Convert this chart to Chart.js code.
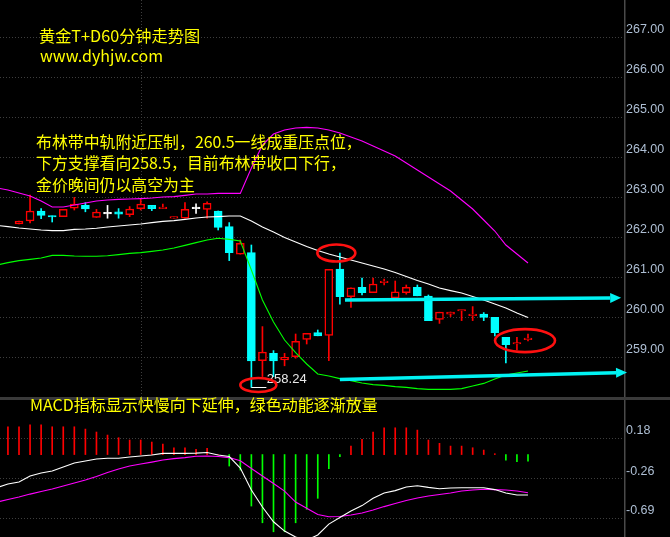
<!DOCTYPE html>
<html><head><meta charset="utf-8">
<script src="https://cdn.jsdelivr.net/npm/chart.js@4"></script>
<style>
html,body{margin:0;padding:0;background:#000;}
#wrap{position:relative;width:670px;height:537px;overflow:hidden;background:#000;}
canvas{position:absolute;left:0;}
.t{position:absolute;color:#ffff00;font-family:"Noto Sans CJK SC","Noto Sans",sans-serif;white-space:nowrap;}
</style></head><body>
<div id="wrap">
<canvas id="pc" width="670" height="397" style="top:0"></canvas>
<div style="position:absolute;left:0;top:397px;width:670px;height:3px;background:#3a3a3a"></div>
<canvas id="mc" width="670" height="137" style="top:400px"></canvas>
<div class="t" style="left:39px;top:25px;font-size:16.2px;line-height:20px">黄金T+D60分钟走势图</div>
<div class="t" style="left:40px;top:45px;font-size:16px;line-height:20px">www.dyhjw.com</div>
<div class="t" style="left:36px;top:130.5px;font-size:15.9px;line-height:21.7px">布林带中轨附近压制，260.5一线成重压点位，<br>下方支撑看向258.5，目前布林带收口下行，<br>金价晚间仍以高空为主</div>
<div class="t" style="left:30px;top:394px;font-size:16px;line-height:20px">MACD指标显示快慢向下延伸，绿色动能逐渐放量</div>
</div>
<script>
// ---------- data ----------
const OPEN  = [262.325,262.40,262.65,262.525,262.51,262.72,262.79,262.49,262.58,262.63,262.56,262.71,262.79,262.71,262.47,262.47,262.71,262.69,262.65,262.26,261.57,261.61,258.91,259.09,258.925,259.01,259.44,259.61,259.54,261.195,260.51,260.74,260.61,260.86,260.48,260.61,260.74,260.525,259.94,260.07,260.15,260.035,260.075,259.99,259.49,259.325,259.435];
const HIGH  = [262.40,263.05,262.71,262.525,262.69,262.99,262.86,262.69,262.79,262.71,262.76,262.95,262.79,262.82,262.50,262.86,262.83,262.88,262.65,262.36,261.925,261.80,259.76,259.16,259.09,259.575,259.59,259.675,261.19,261.60,260.73,260.97,260.97,260.95,260.90,260.80,260.80,260.55,260.12,260.125,260.17,260.26,260.11,259.99,259.49,259.49,259.57];
const LOW   = [262.325,262.35,262.46,262.375,262.51,262.675,262.63,262.49,262.47,262.47,262.51,262.675,262.66,262.71,262.47,262.47,262.59,262.47,262.175,261.41,261.57,258.24,258.51,258.51,258.78,258.97,259.325,259.53,258.91,260.32,260.24,260.55,260.61,260.80,260.45,260.57,260.53,259.91,259.84,260.01,259.91,259.91,259.91,259.525,258.85,259.175,259.40];
const CLOSE = [262.40,262.65,262.54,262.50,262.69,262.82,262.70,262.62,262.58,262.57,262.70,262.82,262.71,262.725,262.50,262.69,262.71,262.84,262.24,261.61,261.84,258.90,259.12,258.90,258.99,259.39,259.59,259.53,261.19,260.51,260.73,260.61,260.825,260.87,260.63,260.74,260.53,259.91,260.12,260.125,260.17,260.04,259.99,259.61,259.31,259.33,259.44];

const BAND_START = -2;
const BOLL_UP  = [263.225,263.175,263.10,263.025,262.90,262.75,262.75,262.80,262.85,262.90,262.925,262.94,262.95,262.96,262.975,263.00,263.01,263.04,263.075,263.075,263.09,263.09,263.09,263.725,264.30,264.575,264.675,264.725,264.74,264.725,264.675,264.60,264.50,264.40,264.275,264.15,264.025,263.85,263.675,263.50,263.325,263.15,262.925,262.70,262.425,262.15,261.80,261.575,261.35];
const BOLL_MID = [262.29,262.26,262.225,262.20,262.175,262.16,262.16,262.19,262.20,262.22,262.25,262.275,262.30,262.325,262.36,262.39,262.41,262.44,262.475,262.50,262.51,262.525,262.525,262.40,262.25,262.125,261.99,261.875,261.76,261.66,261.575,261.50,261.425,261.35,261.275,261.20,261.11,261.01,260.91,260.825,260.725,260.66,260.60,260.51,260.425,260.325,260.225,260.10,259.99];
const BOLL_LOW = [261.30,261.36,261.41,261.44,261.475,261.54,261.54,261.525,261.52,261.52,261.53,261.56,261.59,261.61,261.64,261.675,261.725,261.79,261.86,261.925,261.97,261.94,261.90,261.175,260.425,259.875,259.425,259.11,258.825,258.575,258.525,258.46,258.41,258.35,258.31,258.29,258.26,258.24,258.21,258.19,258.19,258.19,258.21,258.275,258.34,258.45,258.55,258.60,258.65];

const LINE_START = -2;
const DIF = [-0.359,-0.321,-0.299,-0.234,-0.201,-0.179,-0.136,-0.092,-0.071,-0.049,-0.041,-0.041,-0.027,-0.016,-0.005,0.013,0.013,0.013,0.016,0.022,-0.005,-0.022,-0.147,-0.386,-0.571,-0.731,-0.832,-0.897,-0.930,-0.875,-0.756,-0.685,-0.614,-0.555,-0.476,-0.419,-0.392,-0.353,-0.339,-0.357,-0.372,-0.364,-0.361,-0.361,-0.361,-0.381,-0.419,-0.440,-0.440];
const DEA = [-0.517,-0.489,-0.462,-0.430,-0.402,-0.375,-0.343,-0.310,-0.277,-0.239,-0.196,-0.158,-0.125,-0.103,-0.082,-0.060,-0.044,-0.033,-0.018,-0.016,-0.022,-0.033,-0.067,-0.152,-0.234,-0.315,-0.397,-0.517,-0.585,-0.653,-0.676,-0.674,-0.658,-0.636,-0.604,-0.566,-0.533,-0.500,-0.473,-0.451,-0.435,-0.419,-0.397,-0.386,-0.378,-0.381,-0.386,-0.397,-0.415];
const HIST_START = -1;
const HIST = [0.302,0.302,0.324,0.324,0.302,0.302,0.302,0.277,0.245,0.212,0.183,0.158,0.158,0.136,0.114,0.074,0.074,0.057,0.067,0,-0.125,-0.169,-0.560,-0.742,-0.840,-0.840,-0.742,-0.596,-0.476,-0.154,-0.024,0.092,0.165,0.245,0.291,0.291,0.291,0.266,0.158,0.122,0.092,0.092,0.074,0.049,0.009,-0.060,-0.078,-0.071];

const PRICE_TICKS = [267,266,265,264,263,262,261,260,259];
const MACD_TICKS = [0.18,-0.26,-0.69];
const SESSION_BREAK = 11;

// annotations (data coordinates: candle index, price)
const ARROWS = [{x1:29.46,p1:260.425,x2:54.42,p2:260.48},{x1:29.0,p1:258.44,x2:54.95,p2:258.61}];
const ELLIPSES = [{x:21.63,p:258.30,rx:18,ry:7},{x:28.68,p:261.60,rx:19,ry:8.5},{x:45.73,p:259.41,rx:30,ry:11.5}];

// ---------- styles ----------
const X_MIN = -1.7171, X_MAX = 54.676;
const RED='#ff0000', CYAN='#00ffff', WHITE='#ffffff', MAG='#ff00ff', GREEN='#00ff00';
const GRID='#3e3e3e', AXIS='#4a4a4a', LABEL='#aebfd4';
const LFONT='12.5px "Liberation Sans", Arial, sans-serif';

const dir = i => CLOSE[i]>OPEN[i]?1:(CLOSE[i]<OPEN[i]?-1:0);
const edge = i => dir(i)>0?RED:(dir(i)<0?CYAN:WHITE);
const fill = i => dir(i)>0?'#000000':(dir(i)<0?CYAN:WHITE);

function gridAndLabels(chart, ticks, decimals, vline){
  const {ctx, chartArea:a, scales:{x,y}} = chart;
  ctx.save();
  ctx.strokeStyle=GRID; ctx.lineWidth=1; ctx.setLineDash([1,2]);
  ticks.forEach(v=>{const py=Math.round(y.getPixelForValue(v))+0.5;ctx.beginPath();ctx.moveTo(a.left,py);ctx.lineTo(a.right,py);ctx.stroke();});
  if(vline!==undefined){const vx=Math.round(x.getPixelForValue(vline))+0.5;ctx.beginPath();ctx.moveTo(vx,a.top);ctx.lineTo(vx,a.bottom);ctx.stroke();}
  ctx.restore();
}
function axisLabels(chart, ticks, decimals){
  const {ctx, chartArea:a, scales:{y}} = chart;
  ctx.save();
  ctx.strokeStyle=AXIS; ctx.lineWidth=1.5; ctx.beginPath();
  ctx.moveTo(a.right+0.75,0); ctx.lineTo(a.right+0.75,chart.height); ctx.stroke();
  ctx.fillStyle=LABEL; ctx.font=LFONT; ctx.textAlign='left'; ctx.textBaseline='middle';
  ticks.forEach(v=>{const py=y.getPixelForValue(v);ctx.fillText(v.toFixed(decimals),a.right+2,py-7);});
  ctx.restore();
}

const pricePlugin = {
  id:'pp',
  beforeDatasetsDraw(chart){ gridAndLabels(chart, PRICE_TICKS, 2, SESSION_BREAK); },
  afterDraw(chart){
    axisLabels(chart, PRICE_TICKS, 2);
    const {ctx, scales:{x,y}} = chart;
    ctx.save();
    // lowest low marker
    let li=0; LOW.forEach((v,i)=>{if(v<LOW[li])li=i;});
    const lx=x.getPixelForValue(li), ly=Math.round(y.getPixelForValue(LOW[li]))+0.5;
    ctx.strokeStyle=WHITE; ctx.lineWidth=1; ctx.beginPath(); ctx.moveTo(lx,ly); ctx.lineTo(lx+15,ly); ctx.stroke();
    ctx.fillStyle='#e8e8e8'; ctx.font='13px "Liberation Sans", Arial, sans-serif'; ctx.textBaseline='middle'; ctx.textAlign='left';
    ctx.fillText(LOW[li].toFixed(2), lx+15.5, ly-8);
    // arrows
    ctx.strokeStyle='#00f2f2'; ctx.fillStyle='#00f2f2';
    ARROWS.forEach(r=>{
      const x1=x.getPixelForValue(r.x1), y1=y.getPixelForValue(r.p1), x2=x.getPixelForValue(r.x2), y2=y.getPixelForValue(r.p2);
      const ang=Math.atan2(y2-y1,x2-x1), hl=11, hw=5;
      const bx=x2-hl*Math.cos(ang), by=y2-hl*Math.sin(ang);
      ctx.lineWidth=3.5; ctx.beginPath(); ctx.moveTo(x1,y1); ctx.lineTo(bx,by); ctx.stroke();
      ctx.beginPath(); ctx.moveTo(x2,y2); ctx.lineTo(bx-hw*Math.sin(ang),by+hw*Math.cos(ang)); ctx.lineTo(bx+hw*Math.sin(ang),by-hw*Math.cos(ang)); ctx.closePath(); ctx.fill();
    });
    // ellipses
    ctx.strokeStyle='#ff1010'; ctx.lineWidth=2.6;
    ELLIPSES.forEach(e=>{ctx.beginPath();ctx.ellipse(x.getPixelForValue(e.x),y.getPixelForValue(e.p),e.rx,e.ry,0,0,Math.PI*2);ctx.stroke();});
    ctx.restore();
  }
};
const macdPlugin = {
  id:'mp',
  beforeDatasetsDraw(chart){ gridAndLabels(chart, MACD_TICKS, 2); },
  afterDraw(chart){ axisLabels(chart, MACD_TICKS, 2); }
};

const pts = (arr,start)=>arr.map((v,k)=>({x:start+k,y:v}));
const baseOpts = (ymin,ymax)=>({
  responsive:false, animation:false, devicePixelRatio:1, events:[],
  layout:{padding:{left:0,right:46,top:0,bottom:0}},
  plugins:{legend:{display:false},tooltip:{enabled:false}},
  scales:{
    x:{type:'linear',min:X_MIN,max:X_MAX,display:false,offset:false},
    y:{type:'linear',min:ymin,max:ymax,display:false}
  }
});
const lineDs = (data,color)=>({type:'line',data,borderColor:color,borderWidth:1.1,pointRadius:0,tension:0,order:0,fill:false});

new Chart(document.getElementById('pc'),{
  type:'bar',
  data:{datasets:[
    lineDs(pts(BOLL_UP,BAND_START),MAG),
    lineDs(pts(BOLL_MID,BAND_START),WHITE),
    lineDs(pts(BOLL_LOW,BAND_START),GREEN),
    {type:'bar',order:1,grouped:false,data:OPEN.map((o,i)=>({x:i,y:[o,CLOSE[i]]})),
     barThickness:8,borderWidth:1.5,borderSkipped:false,minBarLength:1.5,
     borderColor:c=>edge(c.dataIndex),backgroundColor:c=>fill(c.dataIndex)},
    {type:'bar',order:2,grouped:false,data:LOW.map((l,i)=>({x:i,y:[l,HIGH[i]]})),
     barThickness:1,borderWidth:0,minBarLength:1,backgroundColor:c=>edge(c.dataIndex)}
  ]},
  options:baseOpts(258.0,267.925),
  plugins:[pricePlugin]
});

new Chart(document.getElementById('mc'),{
  type:'bar',
  data:{datasets:[
    lineDs(pts(DIF,LINE_START),WHITE),
    lineDs(pts(DEA,LINE_START),MAG),
    {type:'bar',order:1,grouped:false,data:pts(HIST,HIST_START),barThickness:1,borderWidth:0,
     backgroundColor:c=>(c.raw&&c.raw.y>=0)?RED:GREEN}
  ]},
  options:baseOpts(-0.896625,0.59325),
  plugins:[macdPlugin]
});
</script>
</body></html>
